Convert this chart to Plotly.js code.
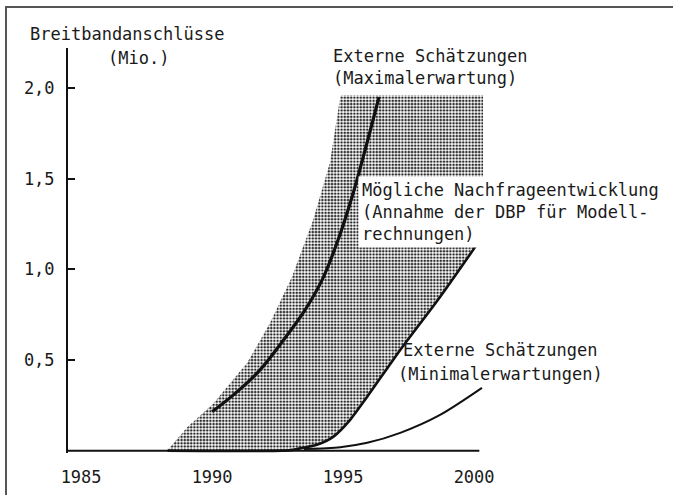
<!DOCTYPE html>
<html><head><meta charset="utf-8">
<script src="https://cdn.plot.ly/plotly-3.0.1.min.js"></script>
<style>
html,body{margin:0;padding:0;background:#fff}
#chart{width:673px;height:495px;position:absolute;left:0;top:0}
#frame{position:absolute;left:5px;top:6px;width:668px;height:489px;border-top:2px solid #555;border-left:2px solid #555;pointer-events:none;z-index:10}
</style>
</head><body><div id="chart"></div><div id="frame"></div>
<script>
// Data
const shadeLeftYears  = [1988.28, 1989.05, 1990.04, 1991.34, 1992.21, 1993.05, 1993.85, 1994.50, 1994.89];
const shadeLeftValues = [0, 0.13, 0.26, 0.485, 0.705, 0.96, 1.27, 1.59, 1.95];
const shadeTopYears   = [1994.95, 2000.34, 2000.34];
const shadeTopValues  = [1.96, 1.96, 1.15];
const maxYears  = [1990.0, 1990.95, 1991.83, 1992.79, 1993.55, 1994.20, 1994.81, 1995.34, 1995.84, 1996.37];
const maxValues = [0.215, 0.325, 0.446, 0.623, 0.777, 0.942, 1.163, 1.399, 1.658, 1.950];
const dbpYears  = [1988.3, 1993.0, 1993.47, 1994.0, 1994.62, 1995.27, 1995.92, 1997.18, 1998.70, 2000.15];
const dbpValues = [0, 0.004, 0.017, 0.033, 0.077, 0.171, 0.298, 0.556, 0.848, 1.146];
const minYears  = [1993.5, 1994.89, 1995.92, 1997.18, 1998.70, 2000.3];
const minValues = [0.01, 0.02, 0.044, 0.099, 0.198, 0.347];
const axisYears  = [1984.5, 2000.2];
const axisValues = [0, 0];
const yTickVals = [0.5, 1.0, 1.5, 2.0];
const xTickVals = [1985, 1990, 1995, 2000];
const yAxisTitle = ['Breitbandanschlüsse', '(Mio.)'];
const maxLabel = ['Externe Schätzungen', '(Maximalerwartung)'];
const dbpLabel = ['Mögliche Nachfrageentwicklung', '(Annahme der DBP für Modell-', 'rechnungen)'];
const minLabel = ['Externe Schätzungen', '(Minimalerwartungen)'];

// shaded band polygon built from the arrays
const polyX = shadeLeftYears.concat(shadeTopYears, dbpYears.slice().reverse());
const polyY = shadeLeftValues.concat(shadeTopValues, dbpValues.slice().reverse());

const L = 68, T = 48, W = 597, H = 405;
const px = x => (x - L) / W;
const py = y => (T + H - y) / H;
const FONT = {family: 'DejaVu Sans Mono, monospace', size: 17, color: '#1a1a1a'};

const traces = [
  {x: polyX, y: polyY, mode: 'lines', fill: 'toself', line: {width: 0, color: 'rgba(0,0,0,0)'},
   fillcolor: 'rgba(0,0,0,0)',
   fillpattern: {shape: '.', size: 3.2, solidity: 0.5, fgcolor: '#2a2a2a', bgcolor: '#fff'},
   hoverinfo: 'skip', showlegend: false},
  {x: axisYears, y: axisValues, mode: 'lines', line: {color: '#111', width: 2}, showlegend: false},
  {x: dbpYears, y: dbpValues, mode: 'lines', line: {color: '#111', width: 2.6, shape: 'spline', smoothing: 0.7}, showlegend: false},
  {x: minYears, y: minValues, mode: 'lines', line: {color: '#111', width: 2, shape: 'spline', smoothing: 0.8}, showlegend: false},
  {x: maxYears, y: maxValues, mode: 'lines', line: {color: '#111', width: 3.2, shape: 'spline', smoothing: 1.0}, showlegend: false}
];

function ann(text, x, y, extra) {
  return Object.assign({text: text, xref: 'paper', yref: 'paper', x: px(x), y: py(y),
    xanchor: 'left', yanchor: 'middle', align: 'left', showarrow: false, font: FONT}, extra || {});
}

const layout = {
  width: 673, height: 495,
  margin: {l: L, r: 673 - L - W, t: T, b: 495 - T - H},
  paper_bgcolor: '#fff', plot_bgcolor: 'rgba(0,0,0,0)',
  separators: ',.',
  showlegend: false,
  font: FONT,
  xaxis: {range: [1984.5, 1984.5 + W / 26.2], showline: false, ticks: '', tickvals: xTickVals,
          showgrid: false, zeroline: false, ticklabelstandoff: 12, tickfont: FONT, fixedrange: true},
  yaxis: {range: [-0.012, 2.22], showline: true, linewidth: 2, linecolor: '#111', mirror: false,
          ticks: 'inside', ticklen: 7, tickwidth: 2, tickcolor: '#111', tickvals: yTickVals,
          tickformat: '.1f', showgrid: false, zeroline: false, ticklabelstandoff: 8, tickfont: FONT, fixedrange: true},
  annotations: [
    ann(yAxisTitle[0], 28, 34),
    ann(yAxisTitle[1], 106, 58),
    ann(maxLabel.join('<br>'), 331, 66.5),
    ann(dbpLabel.join('<br>'), 358, 211.5, {bgcolor: '#fff', borderpad: 3}),
    ann(minLabel[0], 401, 350),
    ann(minLabel[1], 396, 374)
  ]
};

Plotly.newPlot('chart', traces, layout, {staticPlot: true, displayModeBar: false});
</script>
</body></html>
